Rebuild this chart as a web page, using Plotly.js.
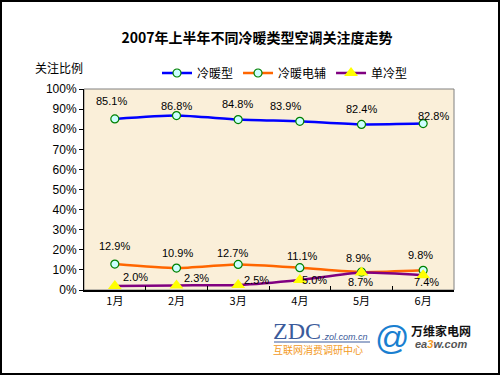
<!DOCTYPE html>
<html>
<head>
<meta charset="utf-8">
<script src="https://cdn.plot.ly/plotly-3.0.1.min.js"></script>
<style>
html,body{margin:0;padding:0;background:#fff;}
#wrap{position:relative;width:500px;height:375px;}
#chart{width:500px;height:375px;}
#frame{position:absolute;left:0;top:0;width:500px;height:375px;box-sizing:border-box;border:2px solid #000;pointer-events:none;}
</style>
</head>
<body>
<div id="wrap"><div id="chart"></div><div id="frame"></div></div>
<script>
const months = ['1月','2月','3月','4月','5月','6月'];
const seriesNames = ['冷暖型','冷暖电辅','单冷型'];
const heatCool = [85.1, 86.8, 84.8, 83.9, 82.4, 82.8];
const heatCoolElec = [12.9, 10.9, 12.7, 11.1, 8.9, 9.8];
const coolOnly = [2.0, 2.3, 2.5, 5.0, 8.7, 7.4];
const yTicks = [0,10,20,30,40,50,60,70,80,90,100];

// label offsets in pixels [dx, dy-up] relative to each point
const offHeatCool = [[-3,18],[0,10],[-1,16],[-14,15],[0,15],[10,8]];
const offHeatCoolElec = [[0,18],[1,15],[-6,11],[3,12],[-3,14],[-3,15]];
const offCoolOnly = [[21,9],[20,7],[18,5],[15,0],[-1,-9],[3,-7]];

const fmt = v => v.toFixed(1) + '%';
const labelFont = {family:'Arial, "Liberation Sans", sans-serif', size:11, color:'#000'};

const data = [
  {x: months, y: heatCool, name: seriesNames[0], type:'scatter', mode:'lines+markers',
   line:{color:'#0000ff', width:2.5, shape:'spline', smoothing:0.6},
   marker:{symbol:'circle', size:8, color:'#ccffff', line:{color:'#008000', width:1.2}}, cliponaxis:false},
  {x: months, y: heatCoolElec, name: seriesNames[1], type:'scatter', mode:'lines+markers',
   line:{color:'#ff6600', width:2.5, shape:'spline', smoothing:0.6},
   marker:{symbol:'circle', size:8, color:'#ccffff', line:{color:'#008000', width:1.2}}, cliponaxis:false},
  {x: months, y: coolOnly, name: seriesNames[2], type:'scatter', mode:'lines+markers',
   line:{color:'#800080', width:2.5, shape:'spline', smoothing:0.6},
   marker:{symbol:'triangle-up', size:12, color:'#ffff00', line:{color:'#ffff00', width:0}}, cliponaxis:false}
];

const px = v => (v-84)/370;
const py = v => (290-v)/201;

const labelAnn = [];
[[heatCool, offHeatCool],[heatCoolElec, offHeatCoolElec],[coolOnly, offCoolOnly]].forEach(([vals, offs]) => {
  vals.forEach((v, i) => {
    labelAnn.push({x: months[i], y: v, xref:'x', yref:'y', text: fmt(v), showarrow:false,
      xanchor:'center', yanchor:'middle', xshift: offs[i][0], yshift: offs[i][1], font: labelFont});
  });
});

const layout = {
  width:500, height:375,
  margin:{l:84, r:46, t:89, b:85},
  paper_bgcolor:'#ffffff',
  plot_bgcolor:'#faefd9',
  font:{family:'Arial, "Noto Sans CJK SC", sans-serif', size:11, color:'#000'},
  title:{text:'2007年上半年不同冷暖类型空调关注度走势', x:0.514, xanchor:'center', y:1-38/375, yanchor:'middle',
         font:{family:'"Noto Sans CJK SC", sans-serif', size:14, color:'#000', weight:'bold'}},
  showlegend:true,
  legend:{orientation:'h', x:px(157), xanchor:'left', y:py(73), yanchor:'middle',
          font:{family:'"Noto Sans CJK SC", sans-serif', size:12, color:'#000'},
          bgcolor:'rgba(0,0,0,0)', itemwidth:30, tracegroupgap:0},
  xaxis:{type:'category', range:[-0.5,5.5], showgrid:false, zeroline:false,
         showline:true, linecolor:'#000', linewidth:1.5, mirror:false,
         ticks:'inside', tickson:'boundaries', ticklen:4, tickcolor:'#000',
         tickfont:{family:'"Noto Sans CJK SC", Arial, sans-serif', size:11, color:'#000'}, fixedrange:true},
  yaxis:{range:[0,100], tickvals:yTicks, ticktext:yTicks.map(v=>v+'%'), showgrid:false, zeroline:false,
         showline:true, linecolor:'#000', linewidth:1, ticks:'outside', ticklen:4, tickcolor:'#000',
         tickfont:{family:'Arial, "Liberation Sans", sans-serif', size:12, color:'#000'}, fixedrange:true},
  shapes:[
    {type:'rect', xref:'paper', yref:'paper', x0:0, x1:1, y0:0, y1:1, line:{color:'#808080', width:1}, layer:'below'},
    {type:'line', xref:'paper', yref:'paper', x0:px(274), x1:px(370), y0:py(342), y1:py(342), line:{color:'#3b5b9b', width:1}}
  ],
  annotations: labelAnn.concat([
    {text:'关注比例', xref:'paper', yref:'paper', x:px(33), xanchor:'left', y:py(67), yanchor:'middle', showarrow:false,
     font:{family:'"Noto Sans CJK SC", sans-serif', size:12, color:'#000'}},
    {text:'ZDC', xref:'paper', yref:'paper', x:px(297), y:py(331), xanchor:'center', yanchor:'middle', showarrow:false,
     font:{family:'"Liberation Serif", "DejaVu Serif", serif', size:24, color:'#3b5b9b'}},
    {text:'<i>.zol.com.cn</i>', xref:'paper', yref:'paper', x:px(345), y:py(337), xanchor:'center', yanchor:'middle', showarrow:false,
     font:{family:'Arial, sans-serif', size:9, color:'#3b5b9b'}},
    {text:'互联网消费调研中心', xref:'paper', yref:'paper', x:px(318), y:py(349), xanchor:'center', yanchor:'middle', showarrow:false,
     font:{family:'"Noto Sans CJK SC", sans-serif', size:10, color:'#f39a1e'}},
    {text:'@', xref:'paper', yref:'paper', x:px(392), y:py(337), xanchor:'center', yanchor:'middle', showarrow:false,
     font:{family:'Arial, sans-serif', size:34, color:'#1a7fd0'}},
    {text:'<b>万维家电网</b>', xref:'paper', yref:'paper', x:px(441), y:py(330), xanchor:'center', yanchor:'middle', showarrow:false,
     font:{family:'"Noto Sans CJK SC", sans-serif', size:12, color:'#111'}},
    {text:'<b><i>ea<span style="color:#f39a1e">3</span>w.com</i></b>', xref:'paper', yref:'paper', x:px(441), y:py(344), xanchor:'center', yanchor:'middle', showarrow:false,
     font:{family:'Arial, sans-serif', size:11, color:'#555'}}
  ])
};

Plotly.newPlot('chart', data, layout, {displayModeBar:false, staticPlot:true});
</script>
</body>
</html>
